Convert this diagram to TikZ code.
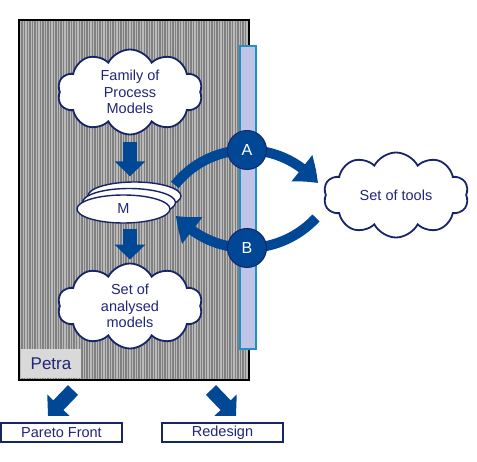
\documentclass[tikz,border=0pt]{standalone}
\usepackage{fontspec}
\setmainfont{Liberation Sans}
\usetikzlibrary{shapes.symbols,shapes.geometric,arrows.meta,bending,patterns.meta}

\definecolor{navytext}{RGB}{32,38,120}
\definecolor{navyline}{RGB}{24,36,104}
\definecolor{arrowblue}{RGB}{0,72,150}
\definecolor{boxgray}{RGB}{128,128,128}
\definecolor{stripe}{RGB}{185,185,185}
\definecolor{barfill}{RGB}{232,234,248}
\definecolor{bardots}{RGB}{60,72,175}
\definecolor{barline}{RGB}{30,145,200}
\definecolor{labelgray}{RGB}{217,217,217}

\tikzstyle{cloudy}=[cloud,
    cloud puffs=10,
    cloud puff arc=125,
    aspect=1.7,
    draw=navyline,
    line width=1.8pt,
    fill=white,
    minimum width=145pt,
    minimum height=85pt,
    inner sep=0pt,
    align=center,
    text=navytext,
    font=\fontsize{14.5}{16.7}\selectfont]
\tikzstyle{disc}=[ellipse,
    draw=navyline,
    line width=1.4pt,
    fill=white,
    minimum width=93pt,
    minimum height=28pt,
    inner sep=0pt,
    text=navytext,
    font=\fontsize{14.5}{16}\selectfont]
\tikzstyle{step circle}=[circle,
    draw=navyline,
    line width=1pt,
    fill=arrowblue,
    minimum size=39pt,
    inner sep=0pt,
    text=white,
    font=\fontsize{16}{18}\selectfont]
\tikzstyle{result}=[rectangle,
    draw=navyline,
    line width=1.3pt,
    fill=white,
    minimum width=121pt,
    minimum height=19pt,
    inner sep=0pt,
    text=navytext,
    font=\fontsize{14.5}{16}\selectfont]
\tikzstyle{bigarrow}=[draw=arrowblue,
    line width=14pt,
    -{Triangle[width=30pt,length=15pt]}]
\tikzstyle{arcarrow}=[draw=arrowblue,
    line width=10pt,
    -{Triangle[width=32pt,length=22pt,bend]}]

\begin{document}
\begin{tikzpicture}[x=1pt,y=1pt]
    \useasboundingbox (0,0) rectangle (477,461);

    % Petra container and the hatched bar
    \node (petra) [rectangle, minimum width=230pt, minimum height=360pt,
        preaction={fill=boxgray},
        pattern={Lines[angle=90,distance=2.6pt,line width=1.1pt]}, pattern color=stripe,
        draw=black, line width=1.5pt] at (134,261) {};
    \node (bar) [rectangle, minimum width=16pt, minimum height=303pt,
        preaction={fill=barfill},
        pattern={Dots[distance=2pt,radius=0.6pt]}, pattern color=bardots,
        draw=barline, line width=1.2pt] at (248,263.5) {};
    \node (label) [rectangle, fill=labelgray, minimum width=60pt, minimum height=29pt,
        text=navytext, font=\fontsize{17}{19}\selectfont] at (51,97.5) {Petra};

    % clouds
    \node (fam) [cloudy] at (130,369) {Family of\\Process\\Models};
    \node (ana) [cloudy] at (130,155) {Set of\\analysed\\models};
    \node (tools) [cloudy] at (396,266) {Set of tools};

    % stack of models
    \node (m3) [disc] at (134.5,265) {};
    \node (m2) [disc] at (129,258.5) {};
    \node (m) [disc] at (123.5,252) {M};

    \draw [bigarrow, shorten <=7pt, shorten >=5pt] (fam.south) -- (fam.south |- m3.north);
    \draw [bigarrow, shorten <=5pt, shorten >=3pt] (fam.south |- m.south) -- (ana.north);

    % loop through the tools
    \coordinate (astart) at (174.9,276.1);
    \coordinate (bstart) at (316.0,243.1);
    \draw [arcarrow] (astart) arc[start angle=141.6, end angle=39.7, radius=92pt];
    \draw [arcarrow] (bstart) arc[start angle=-42.8, end angle=-139, radius=94pt];
    \node (a) [step circle] at (247,311) {A};
    \node (b) [step circle] at (247,213) {B};

    % results
    \node (pareto) [result] at (61.5,28.5) {Pareto Front};
    \node (redesign) [result] at (222.5,28.5) {Redesign};
    \coordinate (ltail) at (73,71);
    \coordinate (lhead) at (48,45);
    \coordinate (rtail) at (211,71);
    \coordinate (rhead) at (236,45);
    \draw [bigarrow] (ltail) -- (lhead);
    \draw [bigarrow] (rtail) -- (rhead);
\end{tikzpicture}
\end{document}
